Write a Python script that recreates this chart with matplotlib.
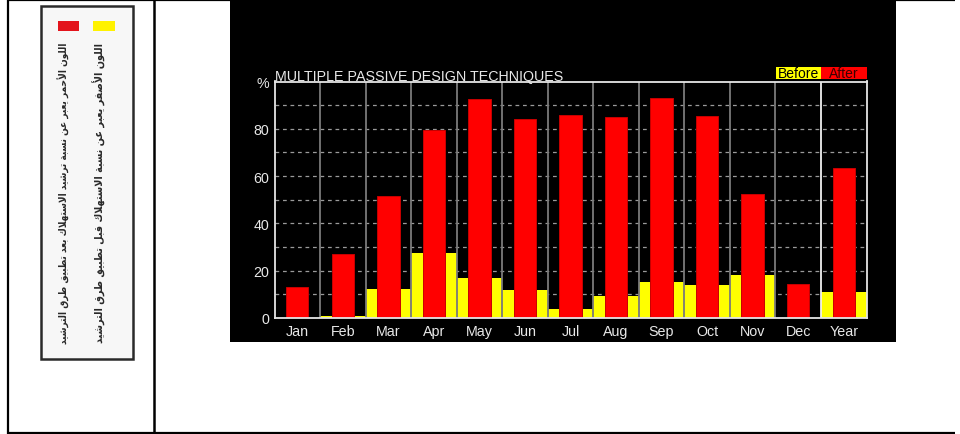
import matplotlib
matplotlib.use('Agg')
import matplotlib.pyplot as plt
from matplotlib.patches import Rectangle
from matplotlib.lines import Line2D

# ---------------- data ----------------
months = ['Jan', 'Feb', 'Mar', 'Apr', 'May', 'Jun', 'Jul', 'Aug', 'Sep', 'Oct', 'Nov', 'Dec', 'Year']
before = [0.0, 0.8, 12.3, 27.4, 16.9, 11.7, 3.7, 9.4, 15.2, 14.1, 18.1, 0.0, 11.0]
after = [13.3, 26.9, 51.6, 79.4, 92.5, 84.3, 85.9, 84.8, 92.9, 85.5, 52.3, 14.4, 63.6]
y_ticks = [0, 20, 40, 60, 80, 100]
y_tick_labels = ['0', '20', '40', '60', '80', '%']
grid_levels = [10, 20, 30, 40, 50, 60, 70, 80, 90]
title = 'MULTIPLE PASSIVE DESIGN TECHNIQUES'
legend_labels = ['Before', 'After']
arabic_red = 'اللون الأحمر يعبر عن نسبة ترشيد الاستهلاك بعد تطبيق طرق الترشيد'
arabic_yellow = 'اللون الأصفر يعبر عن نسبة الاستهلاك قبل تطبيق طرق الترشيد'

# ---------------- minimal Arabic shaping ----------------
FORMS = {
    'ا': (0xFE8D, 0xFE8E, None, None),
    'أ': (0xFE83, 0xFE84, None, None),
    'ب': (0xFE8F, 0xFE90, 0xFE91, 0xFE92),
    'ة': (0xFE93, 0xFE94, None, None),
    'ت': (0xFE95, 0xFE96, 0xFE97, 0xFE98),
    'ح': (0xFEA1, 0xFEA2, 0xFEA3, 0xFEA4),
    'د': (0xFEA9, 0xFEAA, None, None),
    'ر': (0xFEAD, 0xFEAE, None, None),
    'س': (0xFEB1, 0xFEB2, 0xFEB3, 0xFEB4),
    'ش': (0xFEB5, 0xFEB6, 0xFEB7, 0xFEB8),
    'ص': (0xFEB9, 0xFEBA, 0xFEBB, 0xFEBC),
    'ط': (0xFEC1, 0xFEC2, 0xFEC3, 0xFEC4),
    'ع': (0xFEC9, 0xFECA, 0xFECB, 0xFECC),
    'ف': (0xFED1, 0xFED2, 0xFED3, 0xFED4),
    'ق': (0xFED5, 0xFED6, 0xFED7, 0xFED8),
    'ك': (0xFED9, 0xFEDA, 0xFEDB, 0xFEDC),
    'ل': (0xFEDD, 0xFEDE, 0xFEDF, 0xFEE0),
    'م': (0xFEE1, 0xFEE2, 0xFEE3, 0xFEE4),
    'ن': (0xFEE5, 0xFEE6, 0xFEE7, 0xFEE8),
    'ه': (0xFEE9, 0xFEEA, 0xFEEB, 0xFEEC),
    'و': (0xFEED, 0xFEEE, None, None),
    'ي': (0xFEF1, 0xFEF2, 0xFEF3, 0xFEF4),
    'لا': (0xFEFB, 0xFEFC, None, None),
    'لأ': (0xFEF7, 0xFEF8, None, None),
}


def shape_arabic(s):
    toks = []
    i = 0
    while i < len(s):
        if s[i] == 'ل' and i + 1 < len(s) and s[i + 1] in 'اأ':
            toks.append(s[i:i + 2])
            i += 2
        else:
            toks.append(s[i])
            i += 1
    out = []
    for k, t in enumerate(toks):
        if t not in FORMS:
            out.append(t)
            continue
        prev = toks[k - 1] if k > 0 else None
        nxt = toks[k + 1] if k + 1 < len(toks) else None
        iso, fin, ini, med = FORMS[t]
        jp = prev in FORMS and FORMS[prev][2] is not None
        jn = ini is not None and nxt in FORMS
        if jp and jn:
            c = med
        elif jp:
            c = fin
        elif jn:
            c = ini
        else:
            c = iso
        out.append(chr(c))
    return ''.join(out)[::-1]


# ---------------- figure ----------------
W, H = 960, 435
fig = plt.figure(figsize=(W / 100, H / 100), dpi=100)
fig.patch.set_facecolor('white')


def fx(px):
    return px / W


def fy(py):
    return 1 - py / H


def hline(x0, x1, y, lw=2.0, color='black'):
    fig.add_artist(Line2D([fx(x0), fx(x1)], [fy(y), fy(y)], color=color, lw=lw,
                          transform=fig.transFigure, solid_capstyle='butt'))


def vline(x, y0, y1, lw=2.0, color='black'):
    fig.add_artist(Line2D([fx(x), fx(x)], [fy(y0), fy(y1)], color=color, lw=lw,
                          transform=fig.transFigure, solid_capstyle='butt'))


# table borders
hline(7, 955, 1.0, lw=1.6)
hline(7, 955, 434.0, lw=1.6)
vline(7.5, 0, 435, lw=1.6)
vline(153.5, 0, 435, lw=1.8)

# black chart panel
fig.add_artist(Rectangle((fx(230), fy(343)), fx(896) - fx(230), fy(0) - fy(343),
                         transform=fig.transFigure, facecolor='black', edgecolor='none', zorder=0))

# Arabic legend panel
fig.add_artist(Rectangle((fx(41), fy(360)), fx(133) - fx(41), fy(7) - fy(360),
                         transform=fig.transFigure, facecolor='#f7f7f7', edgecolor='#2a2a2a',
                         lw=1.8, zorder=1))
fig.add_artist(Rectangle((fx(58), fy(32)), fx(79) - fx(58), fy(22) - fy(32),
                         transform=fig.transFigure, facecolor='#e3141c', edgecolor='none', zorder=2))
fig.add_artist(Rectangle((fx(93), fy(32)), fx(115) - fx(93), fy(22) - fy(32),
                         transform=fig.transFigure, facecolor='#fff200', edgecolor='none', zorder=2))

ar_texts = []
for txt, cx in [(arabic_red, 64), (arabic_yellow, 99)]:
    t = fig.text(fx(cx), fy(43), shape_arabic(txt), rotation=90, ha='center', va='top',
                 fontsize=12, family=['DejaVu Sans'], fontweight='bold', fontstretch='condensed',
                 color='#2a2a2a', zorder=3)
    ar_texts.append(t)

renderer = fig.canvas.get_renderer()
target = 302.0
for t in ar_texts:
    ext = t.get_window_extent(renderer)
    t.set_fontsize(12 * target / ext.height)

# ---------------- chart axes ----------------
L, R, T, B = 274.5, 866.5, 82.5, 319.0
ax = fig.add_axes([fx(L), fy(B), (R - L) / W, (B - T) / H])
ax.set_facecolor('black')
x = list(range(len(months)))

ax.bar(x, before, width=1.0, color='#ffff00', edgecolor='none', zorder=2)
ax.bar(x, after, width=0.49, color='#ff0000', edgecolor='#c80000', linewidth=0.7, zorder=4)

for lv in grid_levels:
    ax.axhline(lv, color='#9a9a9a', lw=0.9, dashes=(3, 3), zorder=1)
for b in range(len(months) - 1):
    col = '#f0f0f0' if b == len(months) - 2 else '#7a7a7a'
    ax.axvline(b + 0.5, color=col, lw=1.3, zorder=3)

ax.set_xlim(-0.5, len(months) - 0.5)
ax.set_ylim(0, 100)
ax.set_xticks(x)
ax.set_xticklabels(months)
ax.set_yticks(y_ticks)
ax.set_yticklabels(y_tick_labels)
ax.tick_params(length=0, colors='#e8e8e8', labelsize=10.3)
ax.tick_params(axis='x', pad=4)
ax.tick_params(axis='y', pad=4)
for lab in ax.get_xticklabels() + ax.get_yticklabels():
    lab.set_family('Liberation Sans')
for sp in ax.spines.values():
    sp.set_color('#e6e6e6')
    sp.set_linewidth(1.3)
    sp.set_zorder(5)

# title
fig.text(fx(275), fy(80.5), title, ha='left', va='baseline', fontsize=10.3,
         family='Liberation Sans', color='#e8e8e8')

# legend boxes
box_top, box_bot = 68.3, 79.5
boxes = [(775.7, 821.0, '#ffff00', 'black'), (821.0, 866.5, '#ff0000', '#3a0000')]
for (x0, x1, fc, tc), lab in zip(boxes, legend_labels):
    fig.add_artist(Rectangle((fx(x0), fy(box_bot)), fx(x1) - fx(x0), fy(box_top) - fy(box_bot),
                             transform=fig.transFigure, facecolor=fc, edgecolor='none', zorder=2))
    fig.text(fx((x0 + x1) / 2), fy((box_top + box_bot) / 2 + 0.5), lab, ha='center', va='center',
             fontsize=10, family='Liberation Sans', color=tc, zorder=3)

fig.savefig('out.png', dpi=100, facecolor='white')
